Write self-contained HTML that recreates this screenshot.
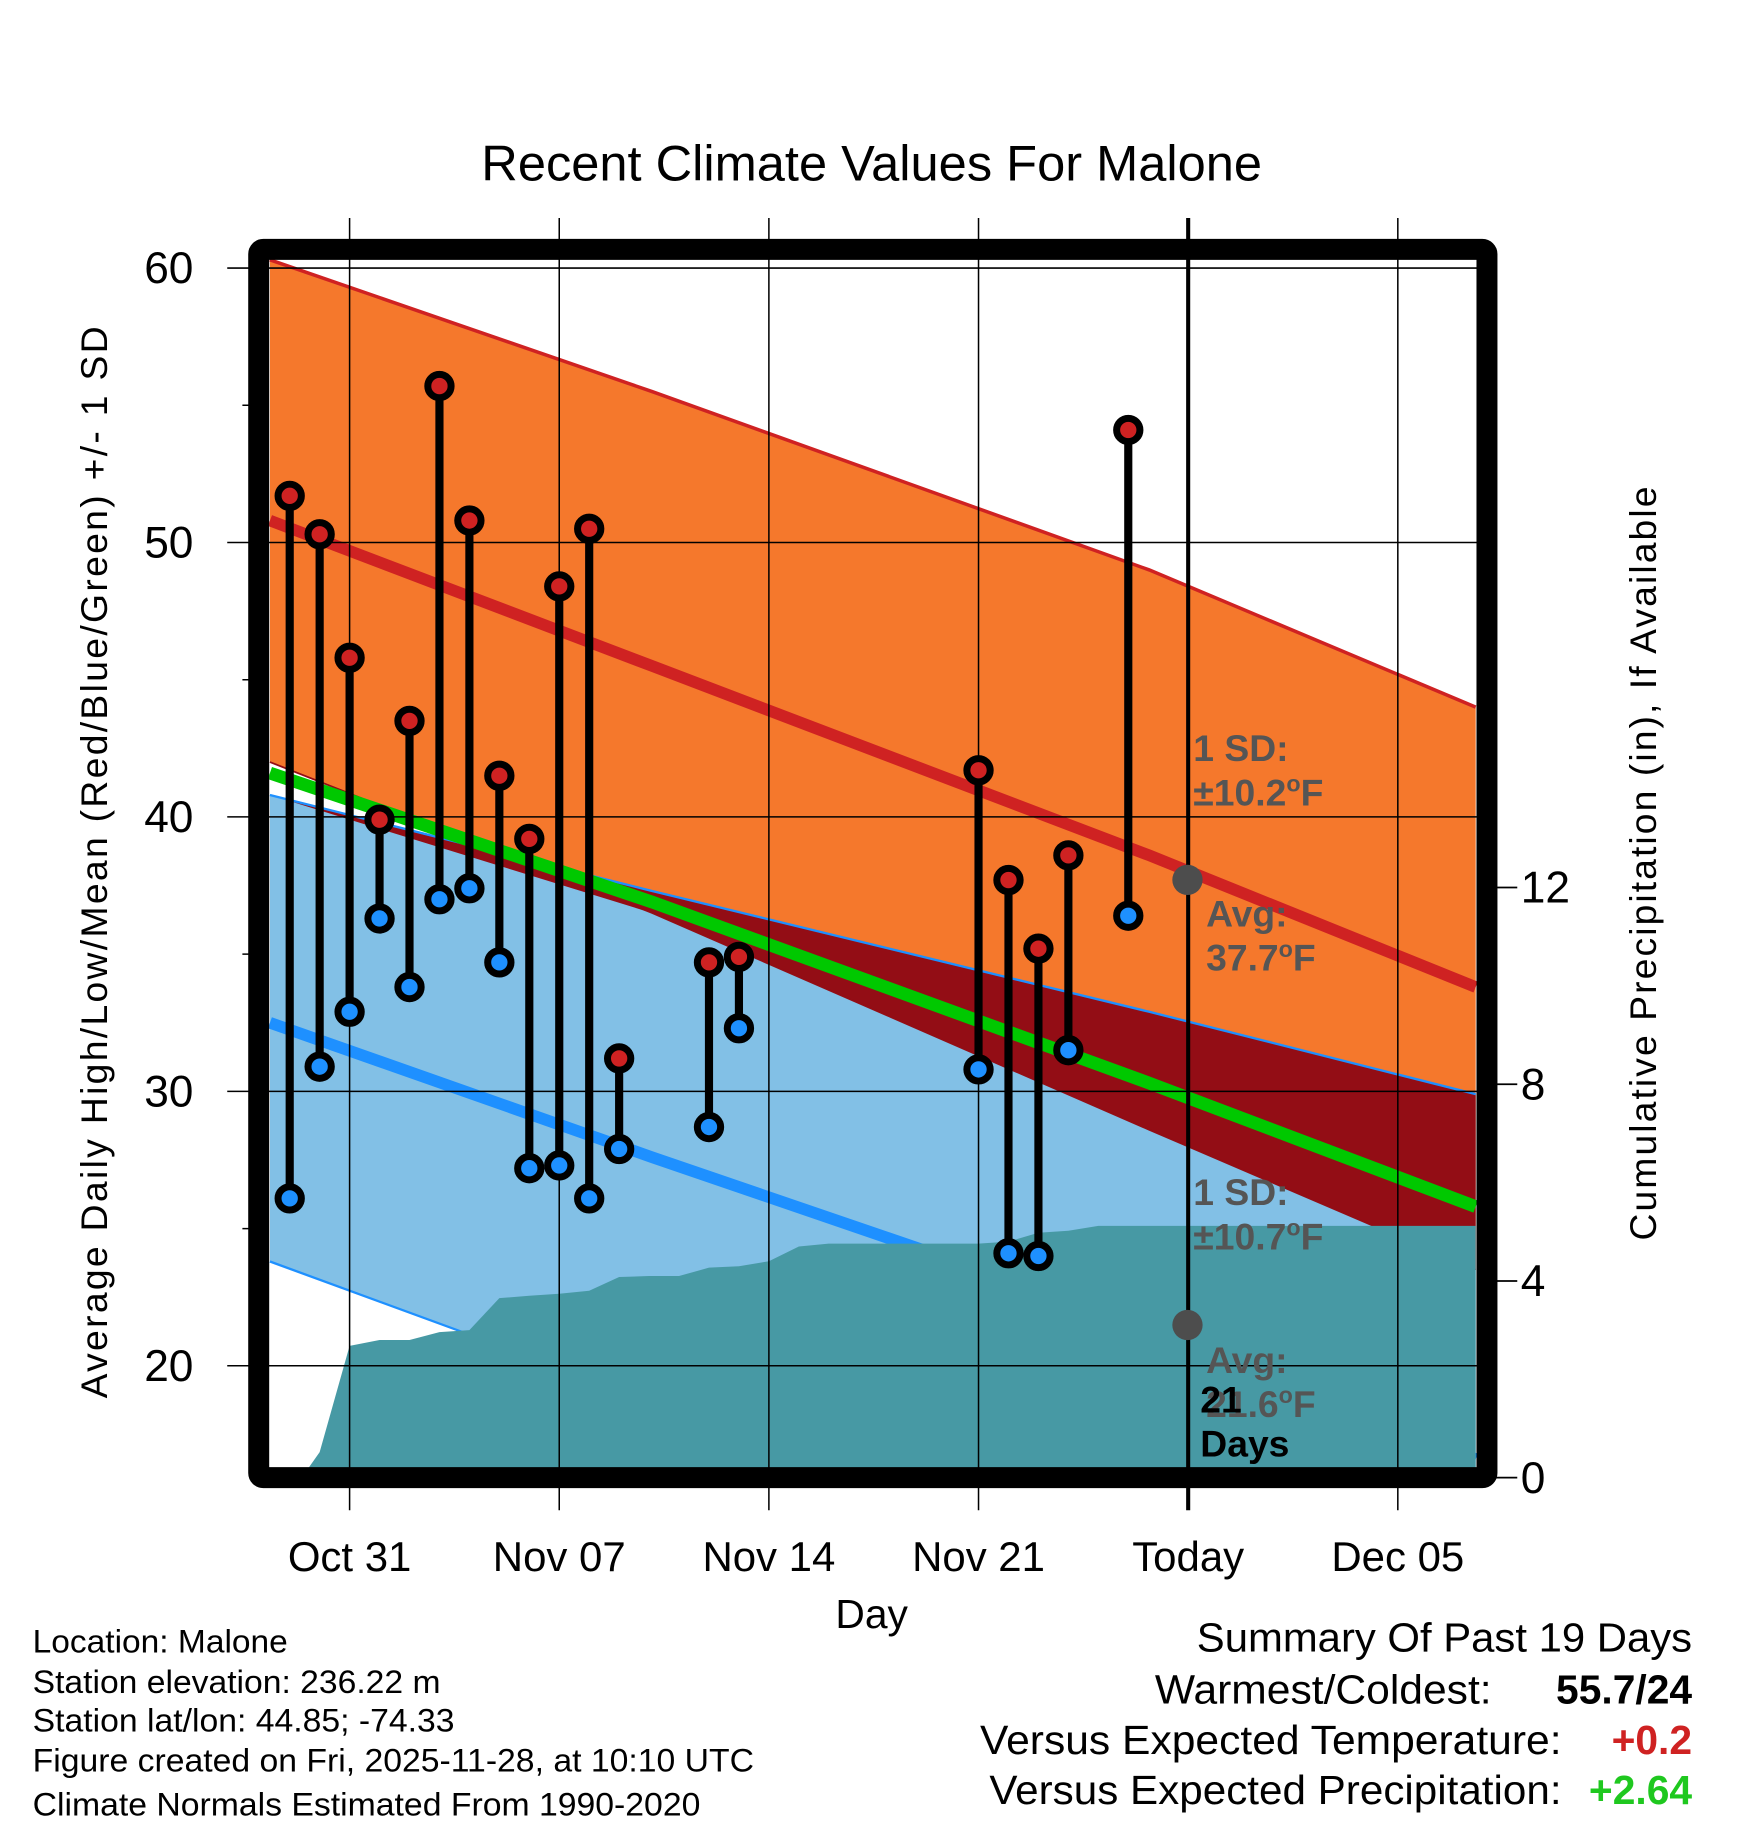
<!DOCTYPE html>
<html><head><meta charset="utf-8"><style>
html,body{margin:0;padding:0;background:#fff;}
svg{display:block;font-family:"Liberation Sans",sans-serif;}
</style></head><body>
<svg id="chart" width="1748" height="1828" viewBox="0 0 1500 1568.6" xmlns="http://www.w3.org/2000/svg">
<g id="layer"></g>
</svg>
<script>
// ---- data ----
const highDays = [-2,-1,0,1,2,3,4,5,6,7,8,9,12,13,21,22,23,24,26];
const highVals = [51.7,50.3,45.8,39.9,43.5,55.7,50.8,41.5,39.2,48.4,50.5,31.2,34.7,34.9,41.7,37.7,35.2,38.6,54.1];
const lowVals  = [26.1,30.9,32.9,36.3,33.8,37.0,37.4,34.7,27.2,27.3,26.1,27.9,28.7,32.3,30.8,24.1,24.0,31.5,36.4];
const normDays = [-2.66,10.1,26.7,37.6];
const highMean = [50.8,45.5,38.6,33.8];
const highPlusSD = [60.3,55.5,49.0,44.0];
const highMinusSD = [42.0,36.5,28.6,23.5];
const lowPlusSD = [40.8,37.3,32.9,29.9];
const meanLine = [41.6,36.9,30.3,25.8];
const lowMean = [32.5,27.6,21.4,16.6];
const lowMinusSD = [23.8,18.7,12.4,7.5];
const precipDays = [-1.6,-1,0,1,2,3,4,5,6,7,8,9,10,11,12,13,14,15,16,17,18,19,20,21,22,23,24,25,26,37.6];
const precipVals = [0,0.52,2.68,2.8,2.8,2.96,3.0,3.65,3.7,3.74,3.8,4.08,4.1,4.1,4.27,4.3,4.4,4.7,4.76,4.76,4.76,4.76,4.76,4.76,4.8,4.98,5.02,5.12,5.12,5.12];
const yTicks = [20,30,40,50,60];
const yMinor = [25,35,45,55];
const pTicks = [0,4,8,12];
const xTickDays = [0,7,14,21,28,35];
const xTickLabels = ["Oct 31","Nov 07","Nov 14","Nov 21","Today","Dec 05"];

// ---- axes ----
const X0=231,X1=1267,Y0=220,Y1=1260;
const xs = d => 300 + 25.7*d;
const ys = v => 230 + (60 - v)*23.55;
const ps = p => 1268 - p*42.2;

const NS="http://www.w3.org/2000/svg";
const layer=document.getElementById('layer');
function mk(tag,attrs,parent){const e=document.createElementNS(NS,tag);for(const k in attrs)e.setAttribute(k,attrs[k]);(parent||layer).appendChild(e);return e;}
function txt(s,attrs,parent){const e=mk('text',attrs,parent);e.textContent=s;return e;}

const defs=mk('defs',{});
const cp=mk('clipPath',{id:'plotclip'},defs);
mk('rect',{x:X0,y:Y0,width:X1-X0,height:Y1-Y0},cp);
const plot=mk('g',{'clip-path':'url(#plotclip)'});



function linePts(arr){return normDays.map((d,i)=>xs(d)+','+ys(arr[i])).join(' ');}
function band(top,bot){return normDays.map((d,i)=>xs(d)+','+ys(top[i])).join(' ')+' '+normDays.slice().reverse().map((d,j)=>{const i=normDays.length-1-j;return xs(d)+','+ys(bot[i]);}).join(' ');}

const lowBand=mk('polygon',{points:band(lowPlusSD,lowMinusSD),fill:'#82c0e6'},plot);


const highBand=mk('polygon',{points:band(highPlusSD,highMinusSD),fill:'#f5782c'},plot);


const ov=[];
for(let i=0;i<normDays.length;i++) ov.push(Math.min(highMinusSD[i],lowPlusSD[i]));
const overlap=mk('polygon',{points:band(lowPlusSD,ov),fill:'#930d15'},plot);


mk('polyline',{points:linePts(highMinusSD),fill:'none',stroke:'#930d15',"stroke-width":1.5},plot);
mk('polyline',{points:linePts(lowPlusSD),fill:'none',stroke:'#1e90ff',"stroke-width":2},plot);
mk('polyline',{points:linePts(lowMinusSD),fill:'none',stroke:'#1e90ff',"stroke-width":2},plot);
mk('polyline',{points:linePts(highPlusSD),fill:'none',stroke:'#cf2222',"stroke-width":3},plot);
const lm=mk('polyline',{points:linePts(lowMean),fill:'none',stroke:'#1e90ff',"stroke-width":10},plot);


const hm=mk('polyline',{points:linePts(highMean),fill:'none',stroke:'#cf2222',"stroke-width":10},plot);


const gm=mk('polyline',{points:linePts(meanLine),fill:'none',stroke:'#00c800',"stroke-width":11},plot);



let pp=precipDays.map((d,i)=>xs(d)+','+ps(precipVals[i])).join(' ');
pp+=' '+xs(37.6)+','+ps(0)+' '+xs(-1.6)+','+ps(0);
const pr=mk('polygon',{points:pp,fill:'#4799a4'},plot);



yTicks.forEach(v=>{mk('line',{x1:195,x2:X1+10,y1:ys(v),y2:ys(v),stroke:'#000','stroke-width':1.3});});
yMinor.forEach(v=>{mk('line',{x1:208,x2:222,y1:ys(v),y2:ys(v),stroke:'#000','stroke-width':1.3});});
xTickDays.forEach((d,i)=>{mk('line',{x1:xs(d),x2:xs(d),y1:187,y2:1296,stroke:'#000','stroke-width':d===28?3.5:1.3});});

// annotations: each line = [text, degreeSuffix?]
function ann(lines,x,y0,dy,fill,name){
  const t=mk('text',{x:x,y:y0,'font-size':32,'font-weight':'bold',fill:fill});
  
  
  lines.forEach((l,i)=>{
    const s=mk('tspan',{x:x,y:y0+i*dy},t);s.textContent=l[0];
    if(l[1]){const o=mk('tspan',{dy:-12,'font-size':20},t);o.textContent='o';const f=mk('tspan',{dy:12},t);f.textContent='F';}
  });
}
mk('circle',{cx:1019,cy:755,r:13,fill:'#4d4d4d'});
mk('circle',{cx:1019,cy:1137,r:13,fill:'#4d4d4d'});
ann([['1 SD:'],['±10.2',1]],1024,653,38,'#555','high-sd-label');
ann([['Avg:'],['37.7',1]],1035,795,38,'#555','high-avg-label');
ann([['1 SD:'],['±10.7',1]],1024,1034,38,'#555','low-sd-label');
ann([['Avg:'],['21.6',1]],1035,1178,38,'#555','low-avg-label');
ann([['21'],['Days']],1030,1212,38,'#000','days-label');

highDays.forEach((d,i)=>{
  const x=xs(d);
  const stem=mk('line',{x1:x,x2:x,y1:ys(highVals[i]),y2:ys(lowVals[i]),stroke:'#000','stroke-width':7});
  
  
  const h=mk('circle',{cx:x,cy:ys(highVals[i]),r:10,fill:'#cf2222',stroke:'#000','stroke-width':6});
  
  
  const l=mk('circle',{cx:x,cy:ys(lowVals[i]),r:10,fill:'#1e90ff',stroke:'#000','stroke-width':6});
  
  
});

const fr=mk('rect',{x:222,y:214,width:1054,height:1054,fill:'none',stroke:'#000','stroke-width':18,rx:4});



yTicks.forEach(v=>{const t=txt(String(v),{x:166,y:ys(v)+13,'font-size':38,'text-anchor':'end'});});
pTicks.forEach(p=>{mk('line',{x1:1276,x2:1302,y1:ps(p),y2:ps(p),stroke:'#000','stroke-width':1.5});const t=txt(String(p),{x:1305,y:ps(p)+13,'font-size':38});});
xTickLabels.forEach((s,i)=>{const t=txt(s,{x:xs(xTickDays[i]),y:1348,'font-size':36,'text-anchor':'middle'});});

const title=txt('Recent Climate Values For Malone',{x:748,y:155,'font-size':43,'text-anchor':'middle',textLength:670,lengthAdjust:'spacingAndGlyphs'});


const xt=txt('Day',{x:748,y:1397,'font-size':35,'text-anchor':'middle'});


const yt=txt('Average Daily High/Low/Mean (Red/Blue/Green) +/- 1 SD',{x:0,y:0,'font-size':32,'text-anchor':'middle',textLength:920,lengthAdjust:'spacing',transform:'translate(92,740) rotate(-90)'});


const yr=txt('Cumulative Precipitation (in), If Available',{x:0,y:0,'font-size':32,'text-anchor':'middle',textLength:647,lengthAdjust:'spacing',transform:'translate(1421,741) rotate(-90)'});



const info=['Location: Malone','Station elevation: 236.22 m','Station lat/lon: 44.85; -74.33','Figure created on Fri, 2025-11-28, at 10:10 UTC','Climate Normals Estimated From 1990-2020'];
const infoY=[1418,1453,1486,1520,1558];
const infoW=[219,350,362,619,573];
info.forEach((s,i)=>{const t=txt(s,{x:28,y:infoY[i],'font-size':28,textLength:infoW[i],lengthAdjust:'spacingAndGlyphs'});});
const s1=txt('Summary Of Past 19 Days',{x:1452,y:1417,'font-size':35,'text-anchor':'end',textLength:425,lengthAdjust:'spacingAndGlyphs'});


const rows=[['Warmest/Coldest:','55.7/24','#000',1462,991,1280],['Versus Expected Temperature:','+0.2','#cf2222',1505,841,1340],['Versus Expected Precipitation:','+2.64','#1fc81f',1548,849,1340]];
rows.forEach(r=>{const a=txt(r[0],{x:r[4],y:r[3],'font-size':35,textLength:r[5]-r[4],lengthAdjust:'spacingAndGlyphs'});
const b=txt(r[1],{x:1452,y:r[3],'font-size':35,'font-weight':'bold','text-anchor':'end',fill:r[2]});});
</script>
</body></html>
